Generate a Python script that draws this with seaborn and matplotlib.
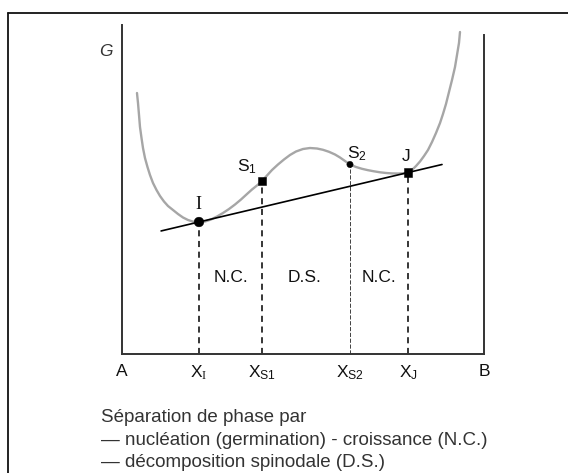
import matplotlib
matplotlib.use('Agg')
import matplotlib.pyplot as plt
import seaborn as sns
import pandas as pd
from matplotlib.lines import Line2D

# ---- data (composition x from A=0 to B=1, G in axis units) ----
curve_x = [0.0414, 0.0442, 0.0470, 0.0497, 0.0539, 0.0580, 0.0635, 0.0704, 0.0773, 0.0856,
           0.0953, 0.1050, 0.1160, 0.1271, 0.1409, 0.1547, 0.1685, 0.1823, 0.1961, 0.2127,
           0.2293, 0.2459, 0.2624, 0.2790, 0.2956, 0.3122, 0.3287, 0.3453, 0.3591, 0.3729,
           0.3867, 0.4006, 0.4144, 0.4309, 0.4475, 0.4641, 0.4807, 0.5000, 0.5193, 0.5387,
           0.5552, 0.5718, 0.5884, 0.6022, 0.6160, 0.6298, 0.6464, 0.6630, 0.6796, 0.6961,
           0.7127, 0.7293, 0.7459, 0.7624, 0.7762, 0.7901, 0.8011, 0.8122, 0.8232, 0.8343,
           0.8453, 0.8564, 0.8674, 0.8785, 0.8867, 0.8950, 0.9033, 0.9116, 0.9199, 0.9254,
           0.9309, 0.9337]
curve_g = [0.7933, 0.7629, 0.7264, 0.6900, 0.6565, 0.6261, 0.5957, 0.5684, 0.5441, 0.5198,
           0.4985, 0.4802, 0.4635, 0.4498, 0.4377, 0.4255, 0.4149, 0.4073, 0.4024, 0.4012,
           0.4027, 0.4088, 0.4179, 0.4286, 0.4407, 0.4544, 0.4696, 0.4863, 0.5000, 0.5122,
           0.5258, 0.5426, 0.5593, 0.5760, 0.5912, 0.6049, 0.6155, 0.6231, 0.6261, 0.6246,
           0.6207, 0.6146, 0.6064, 0.5973, 0.5866, 0.5760, 0.5684, 0.5629, 0.5587, 0.5553,
           0.5523, 0.5502, 0.5489, 0.5486, 0.5492, 0.5517, 0.5593, 0.5714, 0.5851, 0.6018,
           0.6201, 0.6444, 0.6717, 0.7021, 0.7295, 0.7599, 0.7964, 0.8328, 0.8723, 0.9088,
           0.9453, 0.9787]
tangent_x = [0.108, 0.884]
tangent_g = [0.374, 0.576]
point_names = ['I', 'S1', 'S2', 'J']
point_x = [0.2127, 0.3867, 0.6298, 0.7901]
point_g = [0.4012, 0.5258, 0.5760, 0.5517]
point_labels = ['I', r'S$_{\mathsf{1}}$', r'S$_{\mathsf{2}}$', 'J']
label_x = [0.210, 0.345, 0.650, 0.785]
label_g = [0.455, 0.568, 0.610, 0.600]
tick_pos = [0.0, 0.2127, 0.3867, 0.6298, 0.7901, 1.0]
tick_labels = ['A', r'X$_{\mathrm{I}}$', r'X$_{\mathsf{S1}}$', r'X$_{\mathsf{S2}}$',
               r'X$_{\mathsf{J}}$', 'B']
region_labels = ['N.C.', 'D.S.', 'N.C.']
region_x = [0.301, 0.503, 0.710]
region_g = 0.234
caption_lines = ['Séparation de phase par',
                 '— nucléation (germination) - croissance (N.C.)',
                 '— décomposition spinodale (D.S.)']

sns.set_theme(style='white')
plt.rcParams['font.family'] = ['Liberation Sans', 'DejaVu Sans']
plt.rcParams['mathtext.fontset'] = 'custom'
plt.rcParams['mathtext.rm'] = 'Liberation Serif'
plt.rcParams['mathtext.sf'] = 'Liberation Sans'
plt.rcParams['mathtext.it'] = 'Liberation Sans:italic'
plt.rcParams['mathtext.bf'] = 'Liberation Sans:bold'

W, H = 568, 473
fig = plt.figure(figsize=(W / 100, H / 100), dpi=100)
ax = fig.add_axes([122 / W, 119 / H, 362 / W, 329 / H])

curve = pd.DataFrame({'x': curve_x, 'G': curve_g})
sns.lineplot(data=curve, x='x', y='G', sort=False, color='#a6a6a6', lw=1.7, ax=ax)
tangent = pd.DataFrame({'x': tangent_x, 'G': tangent_g})
sns.lineplot(data=tangent, x='x', y='G', sort=False, color='black', lw=1.2, ax=ax)

# vertical dashed lines from the points down to the axis
for name, x, g in zip(point_names, point_x, point_g):
    if name == 'S2':
        ax.vlines(x, 0, g, colors='#222222', lw=0.6, linestyles=(0, (5, 2)))
    else:
        ax.vlines(x, 0, g, colors='black', lw=1.1, linestyles=(0, (4, 3)))

pts = pd.DataFrame({'x': point_x, 'G': point_g, 'name': point_names})
sns.scatterplot(data=pts, x='x', y='G', style='name',
                markers={'I': 'o', 'S1': 's', 'S2': 'o', 'J': 's'},
                size='name', sizes={'I': 48, 'S1': 26, 'S2': 20, 'J': 34},
                color='black', edgecolor='black', legend=False, ax=ax, zorder=5)

for lab, x, g, name in zip(point_labels, label_x, label_g, point_names):
    fam = ['Liberation Serif'] if name == 'I' else ['Liberation Sans']
    ax.text(x, g, lab, ha='center', va='center', fontsize=13 if name == 'I' else 12.5,
            family=fam, color='#111111')

for lab, x in zip(region_labels, region_x):
    ax.text(x, region_g, lab, ha='center', va='center', fontsize=12.5, color='#111111')

ax.text(-0.045, 0.918, 'G', ha='center', va='center', fontsize=12.5, style='italic',
        color='#333333')

ax.set_xlim(0, 1)
ax.set_ylim(0, 1)
ax.set_xticks(tick_pos)
ax.set_xticklabels(tick_labels, fontsize=12.5, color='#111111')
ax.set_yticks([])
ax.tick_params(axis='x', length=0, pad=7)
ax.set_xlabel('')
ax.set_ylabel('')
for side in ['left', 'bottom', 'right']:
    ax.spines[side].set_color('#333333')
    ax.spines[side].set_linewidth(1.4)
ax.spines['top'].set_visible(False)
ax.spines['right'].set_bounds(0, 0.970)
ax.spines['left'].set_bounds(0, 1.0)
ax.patch.set_alpha(0)

# outer frame (left and top edges)
fx = 8 / W
fy = 1 - 13 / H
fig.add_artist(Line2D([fx, fx], [0, fy], color='#111111', lw=1.3))
fig.add_artist(Line2D([fx, 1], [fy, fy], color='#111111', lw=1.3))

baselines = [422, 445, 467]
for line, b in zip(caption_lines, baselines):
    fig.text(101 / W, 1 - b / H, line, ha='left', va='baseline', fontsize=13.5,
             color='#333333')

fig.savefig('out.png', dpi=100)
